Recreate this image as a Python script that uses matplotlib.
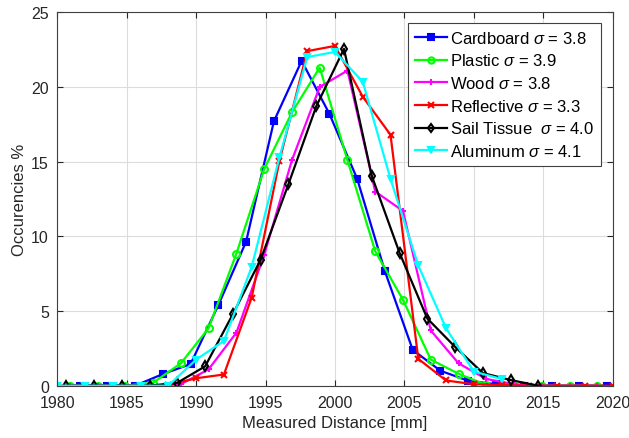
import numpy as np
import matplotlib
matplotlib.use("Agg")
import matplotlib.pyplot as plt

plt.rcParams['font.family'] = ['Liberation Sans', 'DejaVu Sans']
plt.rcParams['mathtext.fontset'] = 'custom'
plt.rcParams['mathtext.it'] = 'Liberation Sans:italic'
plt.rcParams['mathtext.rm'] = 'Liberation Sans'

# Data
cardboard_x = [1981.6 + 2 * k for k in range(20)]
cardboard_y = [0, 0, 0, 0.78, 1.45, 5.4, 9.65, 17.7, 21.75, 18.2, 13.85, 7.65, 2.4, 1.0, 0.33, 0.1, 0, 0, 0, 0]

plastic_x = [1980.9 + 2 * k for k in range(20)]
plastic_y = [0, 0, 0, 0.2, 1.5, 3.85, 8.85, 14.5, 18.3, 21.3, 15.1, 9.0, 5.75, 1.75, 0.8, 0.05, 0, 0, 0, 0]

wood_x = [1980.9 + 2 * k for k in range(20)]
wood_y = [0, 0, 0, 0, 0.1, 1.1, 3.55, 8.75, 15.1, 20.0, 21.1, 13.0, 11.7, 3.7, 1.5, 0.45, 0.1, 0, 0, 0]

reflective_x = [1980 + 2 * k for k in range(21)]
reflective_y = [0, 0, 0, 0, 0.05, 0.5, 0.75, 5.9, 15.05, 22.4, 22.75, 19.35, 16.8, 1.8, 0.35, 0.1, 0.05, 0, 0, 0, 0]

sail_x = [1980.65 + 2 * k for k in range(18)]
sail_y = [0, 0, 0, 0, 0.2, 1.3, 4.8, 8.45, 13.5, 18.7, 22.55, 14.05, 8.9, 4.5, 2.6, 0.85, 0.38, 0]

aluminum_x = [1980 + 2 * k for k in range(17)]
aluminum_y = [0, 0, 0, 0, 0, 1.75, 3.0, 7.95, 15.3, 22.0, 22.35, 20.35, 13.85, 8.05, 3.85, 0.95, 0.45]

labels = [r"Cardboard $\sigma$ = 3.8", r"Plastic $\sigma$ = 3.9", r"Wood $\sigma$ = 3.8",
          r"Reflective $\sigma$ = 3.3", r"Sail Tissue  $\sigma$ = 4.0", r"Aluminum $\sigma$ = 4.1"]

xticks = [1980, 1985, 1990, 1995, 2000, 2005, 2010, 2015, 2020]
yticks = [0, 5, 10, 15, 20, 25]

fig = plt.figure(figsize=(6.29, 4.39), dpi=100)
ax = fig.add_axes([0.0911, 0.1191, 0.974 - 0.0911, 0.9697 - 0.1191])

series = [
    (cardboard_x, cardboard_y, '#0000ff', 's', '#0000ff'),
    (plastic_x, plastic_y, '#00ff00', 'o', 'none'),
    (wood_x, wood_y, '#ff00ff', '+', 'none'),
    (reflective_x, reflective_y, '#ff0000', 'x', 'none'),
    (sail_x, sail_y, '#000000', 'd', 'none'),
    (aluminum_x, aluminum_y, '#00ffff', 'v', '#00ffff'),
]
for (x, y, c, m, mfc), lab in zip(series, labels):
    ax.plot(x, y, color=c, marker=m, mfc=mfc, mec=c, ms=5, mew=1.5, lw=1.6, label=lab, clip_on=True)

ax.set_xlim(1980, 2020)
ax.set_ylim(0, 25)
ax.set_xticks(xticks)
ax.set_yticks(yticks)
ax.grid(True, color='#dcdcdc', lw=0.8)
ax.set_axisbelow(True)
for s in ax.spines.values():
    s.set_color('#404040')
    s.set_linewidth(0.8)
ax.tick_params(direction='in', top=True, right=True, labelsize=11.5, colors='#262626', length=4)
ax.tick_params(axis='x', pad=7)
ax.tick_params(axis='y', pad=6)
ax.set_xlabel("Measured Distance [mm]", fontsize=12, color='#262626', labelpad=3)
ax.set_ylabel("Occurencies %", fontsize=12, color='#262626', labelpad=3)

leg = ax.legend(loc='upper right', bbox_to_anchor=(0.9784, 0.9713), borderaxespad=0,
                fontsize=12, handlelength=1.9, handletextpad=0.2, labelspacing=0.4,
                fancybox=False, framealpha=1, edgecolor='#404040', borderpad=0.4, markerscale=0.9)
leg.get_frame().set_linewidth(0.8)

fig.savefig("out.png", dpi=100)
